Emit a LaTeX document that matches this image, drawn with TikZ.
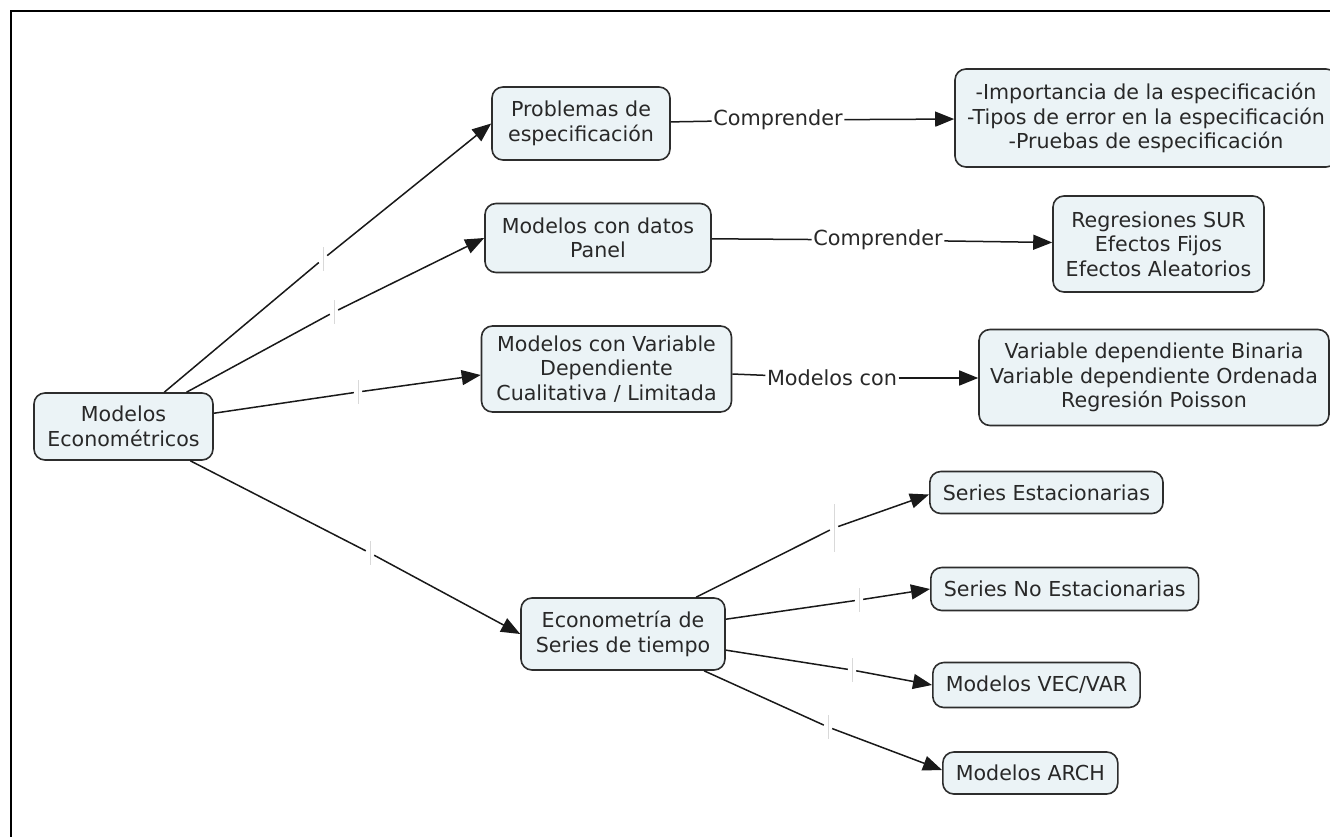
\documentclass[tikz,border=0pt]{standalone}
\usepackage{fontspec}
\setmainfont{DejaVu Sans}
\usetikzlibrary{arrows.meta}
\definecolor{boxfill}{RGB}{235,243,246}
\definecolor{boxline}{RGB}{45,45,45}
\definecolor{txt}{RGB}{40,40,40}
\definecolor{linkcol}{RGB}{25,25,25}
\begin{document}
\begin{tikzpicture}[x=1pt,y=-1pt,
  concept/.style={draw=boxline, line width=1.6pt, fill=boxfill, rounded corners=11pt,
    align=center, text=txt, font=\fontsize{20.6}{24.5}\selectfont, inner sep=0pt},
  leaf/.style={concept, anchor=west, inner xsep=13pt},
  link/.style={line width=1.5pt, draw=linkcol},
  arr/.style={link, -{Triangle[length=19pt,width=15pt]}},
  lbl/.style={font=\fontsize{20.8}{24.5}\selectfont, text=txt, inner sep=1.5pt},
  gapmark/.style={fill=white, inner sep=0pt, minimum width=8pt, minimum height=24pt,
    path picture={\draw[gray!30, line width=1pt] (path picture bounding box.north) -- (path picture bounding box.south);}}
]
\useasboundingbox (0,0) rectangle (1330,837);
\clip (0,0) rectangle (1330,837);
\fill[white] (0,0) rectangle (1330,837);
\draw[line width=2.8pt] (11,838) -- (11,11) -- (1331,11);

% concepts
\node[concept, minimum width=179pt, minimum height=67pt] (eco) at (123.5,426.5) {Modelos\\Econométricos};
\node[concept, minimum width=178pt, minimum height=73pt] (prob) at (581,123.5) {Problemas de\\especificación};
\node[concept, minimum width=226pt, minimum height=69pt] (panel) at (598,238) {Modelos con datos\\Panel};
\node[concept, minimum width=250pt, minimum height=86pt] (var) at (606.5,369) {Modelos con Variable\\Dependiente\\Cualitativa / Limitada};
\node[concept, minimum width=204pt, minimum height=72pt] (econ) at (623,634) {Econometría de\\Series de tiempo};
\node[concept, minimum width=382pt, minimum height=98pt] (spec) at (1146,118) {-Importancia de la especificación\\-Tipos de error en la especificación\\-Pruebas de especificación};
\node[concept, minimum width=211pt, minimum height=96pt] (sur) at (1158.5,244) {Regresiones SUR\\Efectos Fijos\\Efectos Aleatorios};
\node[concept, minimum width=350pt, minimum height=96pt] (vdep) at (1154,377.5) {Variable dependiente Binaria\\Variable dependiente Ordenada\\Regresión Poisson};
\node[leaf, minimum height=42pt] (est) at (929,492.5) {Series Estacionarias};
\node[leaf, minimum height=43pt] (noest) at (930,589) {Series No Estacionarias};
\node[leaf, minimum height=45pt] (vec) at (932,685) {Modelos VEC/VAR};
\node[leaf, minimum height=42pt] (arch) at (942,773) {Modelos ARCH};

% linking phrases
\node[lbl] (c1) at (778,120) {Comprender};
\node[lbl] (c2) at (878,240) {Comprender};
\node[lbl] (c3) at (832,378) {Modelos con};

% empty linking marks
\node[gapmark] (m1) at (323,259) {};
\node[gapmark] (m2) at (334,312) {};
\node[gapmark] (m3) at (358,392) {};
\node[gapmark] (m4) at (370,553) {};
\node[gapmark, minimum height=48pt] (m5) at (834,528) {};
\node[gapmark] (m6) at (859,600) {};
\node[gapmark] (m7) at (852,670) {};
\node[gapmark] (m8) at (828,727) {};

% connectors
\draw[link] (eco) -- (m1); \draw[arr] (m1) -- (prob.west);
\draw[link] (eco) -- (m2); \draw[arr] (m2) -- (panel.west);
\draw[link] (eco) -- (m3); \draw[arr] (m3) -- ([yshift=-6pt]var.west);
\draw[link] (eco) -- (m4); \draw[arr] (m4) -- (econ.west);

\draw[link] (prob) -- (c1); \draw[arr] (c1) -- (spec);
\draw[link] (panel) -- (c2); \draw[arr] (c2) -- (sur);
\draw[link] (var) -- (c3); \draw[arr] (c3) -- (c3 -| vdep.west);

\draw[link] (econ) -- (m5); \draw[arr] (m5) -- ([yshift=-2pt]est.west);
\draw[link] (econ) -- (m6); \draw[arr] (m6) -- (noest.west);
\draw[link] (econ) -- (m7); \draw[arr] (m7) -- (vec.west);
\draw[link] (econ) -- (m8); \draw[arr] (m8) -- ([yshift=3pt]arch.west);
\end{tikzpicture}
\end{document}
